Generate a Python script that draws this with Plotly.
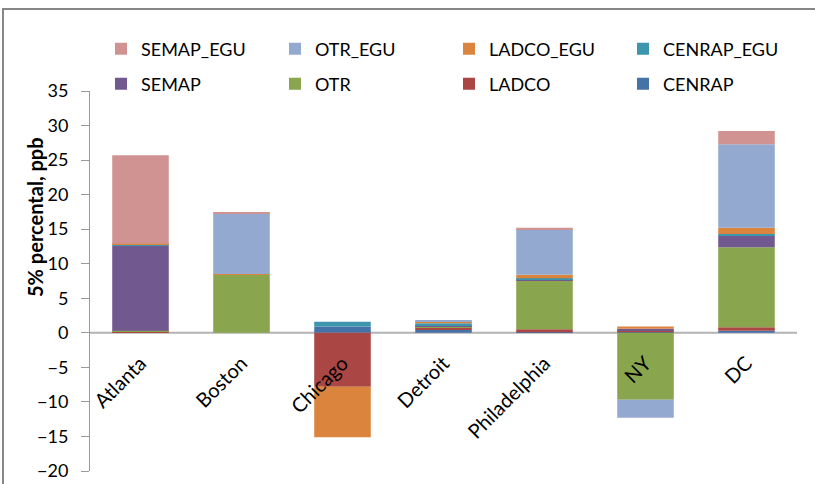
import plotly.graph_objects as go

# Cities along the category axis
cities = ["Atlanta", "Boston", "Chicago", "Detroit", "Philadelphia", "NY", "DC"]

# Source-region contributions, ppb (stacked bottom to top in this order)
cenrap     = [0.0, 0.0, 0.9, 0.4, 0.1, 0.1, 0.3]
ladco      = [0.2, 0.0, -7.8, 0.4, 0.4, 0.3, 0.5]
otr        = [0.1, 8.4, 0.0, 0.1, 7.1, -9.7, 11.6]
semap      = [12.3, 0.0, 0.0, 0.1, 0.1, 0.2, 1.7]
cenrap_egu = [0.2, 0.0, 0.7, 0.4, 0.2, 0.0, 0.2]
ladco_egu  = [0.1, 0.1, -7.3, 0.3, 0.5, 0.3, 0.9]
otr_egu    = [0.0, 8.8, 0.0, 0.1, 6.6, -2.6, 12.1]
semap_egu  = [12.8, 0.2, 0.0, 0.0, 0.2, 0.0, 1.9]

series = [
    ("CENRAP", cenrap, "#4572A7", "legend2"),
    ("LADCO", ladco, "#AA4643", "legend2"),
    ("OTR", otr, "#89A54E", "legend2"),
    ("SEMAP", semap, "#71588F", "legend2"),
    ("CENRAP_EGU", cenrap_egu, "#3D96AE", "legend"),
    ("LADCO_EGU", ladco_egu, "#DB843D", "legend"),
    ("OTR_EGU", otr_egu, "#93A9CF", "legend"),
    ("SEMAP_EGU", semap_egu, "#D19392", "legend"),
]

y_ticks = list(range(-20, 40, 5))
y_min, y_max = -20, 35

FONT = "Lato"

fig = go.Figure()
for name, vals, color, leg in series:
    fig.add_trace(go.Bar(
        x=cities, y=vals, name=name, legend=leg,
        marker=dict(color=color, line=dict(width=0)),
    ))

# plot-area geometry in pixels
W, H = 815, 484
L, R, T, B = 90, 18, 91, 13
pw, ph = W - L - R, H - T - B

def px_x(x):
    return (x - L) / pw

def px_y(y):
    return 1 - (y - T) / ph

legend_common = dict(
    orientation="h", xanchor="left", yanchor="middle",
    xref="container", yref="container",
    font=dict(family=FONT, size=18, color="#000000"),
    traceorder="reversed", entrywidth=129, entrywidthmode="pixels",
    itemwidth=30, bgcolor="rgba(0,0,0,0)",
)

fig.update_layout(
    width=W, height=H,
    margin=dict(l=L, r=R, t=T, b=B, autoexpand=False),
    paper_bgcolor="white", plot_bgcolor="white",
    barmode="relative", bargap=0.44,
    font=dict(family=FONT, size=17, color="#000000"),
    legend=dict(x=101 / W, y=1 - 49 / H, **legend_common),
    legend2=dict(x=101 / W, y=1 - 84 / H, **legend_common),
    xaxis=dict(
        anchor="free", position=(0 - y_min) / (y_max - y_min),
        showline=False, ticks="", tickangle=-45,
        ticklabelstandoff=14,
        tickfont=dict(family=FONT, size=20, color="#000000"),
        showgrid=False, zeroline=False, automargin=False,
    ),
    yaxis=dict(
        range=[y_min, y_max], tickvals=y_ticks,
        showline=True, linecolor="#9A9A9A", linewidth=1,
        ticks="outside", ticklen=8, tickcolor="#9A9A9A",
        ticklabelstandoff=9,
        tickfont=dict(family=FONT, size=18, color="#000000"),
        showgrid=False, zeroline=False, automargin=False,
    ),
    showlegend=True,
)

# zero line behind the bars
fig.add_shape(type="line", xref="paper", yref="y", layer="below",
              x0=0, x1=1, y0=0, y1=0,
              line=dict(color="#B3B3B3", width=2))

# axis title
fig.add_annotation(
    text="<b>5% percental, ppb</b>", textangle=-90,
    xref="paper", yref="paper", x=px_x(35), y=px_y(217),
    xanchor="center", yanchor="middle",
    showarrow=False, font=dict(family=FONT, size=20, color="#000000"),
)

# chart-area frame (top and left edges)
fig.add_shape(type="line", xref="paper", yref="paper",
              x0=px_x(2), x1=px_x(815), y0=px_y(9), y1=px_y(9),
              line=dict(color="#878787", width=2))
fig.add_shape(type="line", xref="paper", yref="paper",
              x0=px_x(3), x1=px_x(3), y0=px_y(8), y1=px_y(484),
              line=dict(color="#878787", width=2))

fig.write_html("out.html")
